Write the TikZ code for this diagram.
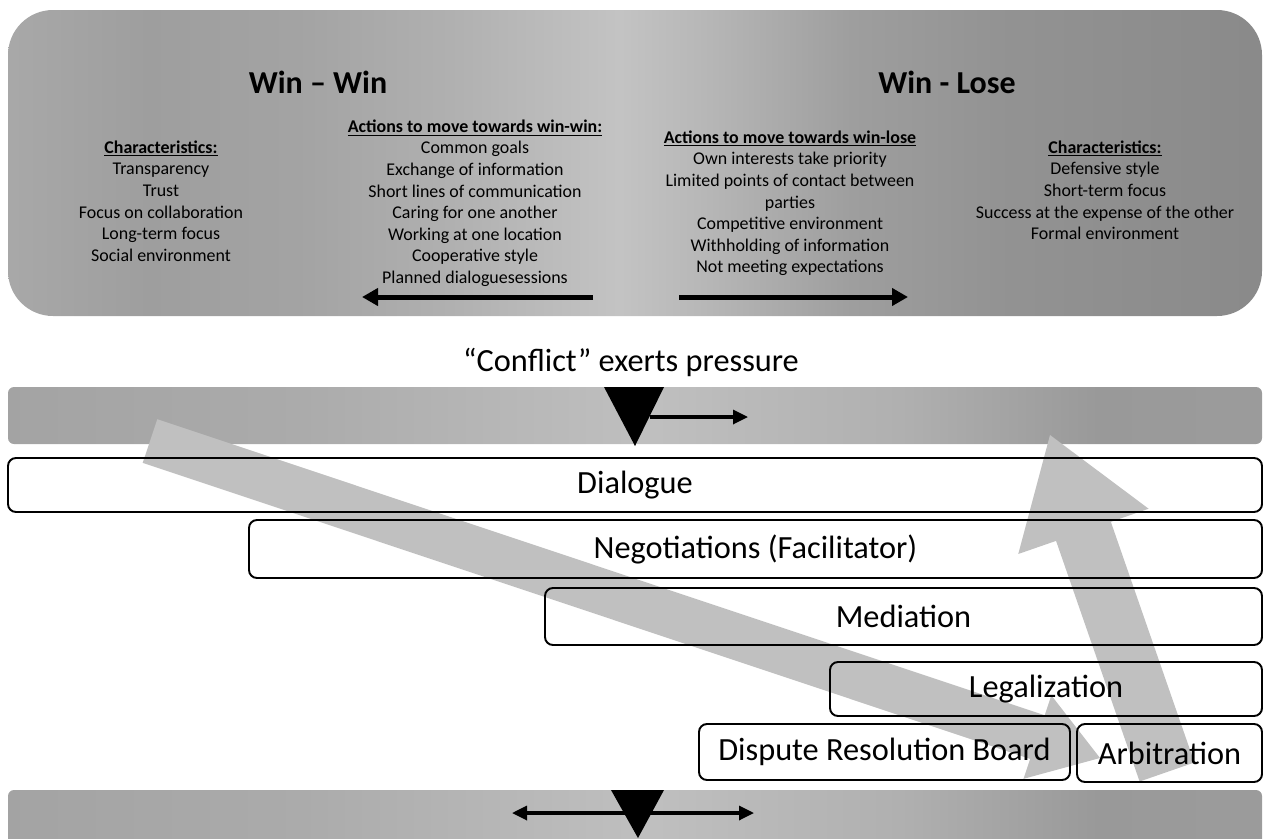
\documentclass[tikz,border=0pt]{standalone}
\usepackage{fontspec}
\setmainfont{Carlito}
\usetikzlibrary{arrows.meta,calc}

\definecolor{arrowgrey}{RGB}{192,192,192}
\newcommand{\unitpx}{0.2mm}

\pgfdeclarehorizontalshading{panelshade}{100bp}{rgb(0bp)=(0.66,0.66,0.66); rgb(25bp)=(0.66,0.66,0.66); rgb(30.6bp)=(0.62,0.62,0.62); rgb(36.6bp)=(0.64,0.64,0.64); rgb(42.6bp)=(0.69,0.69,0.69); rgb(49.4bp)=(0.765,0.765,0.765); rgb(52.6bp)=(0.72,0.72,0.72); rgb(58.6bp)=(0.62,0.62,0.62); rgb(64.6bp)=(0.575,0.575,0.575); rgb(75bp)=(0.54,0.54,0.54); rgb(100bp)=(0.54,0.54,0.54)}
\pgfdeclarehorizontalshading{bandshade}{100bp}{rgb(0bp)=(0.64,0.64,0.64); rgb(25bp)=(0.64,0.64,0.64); rgb(36.6bp)=(0.67,0.67,0.67); rgb(50.6bp)=(0.75,0.75,0.75); rgb(60.6bp)=(0.69,0.69,0.69); rgb(68.5bp)=(0.6,0.6,0.6); rgb(75bp)=(0.61,0.61,0.61); rgb(100bp)=(0.61,0.61,0.61)}

\tikzstyle{stage}=[draw, rounded corners=1.6mm, line width=1.1pt, inner sep=0pt, font=\fontsize{18.4}{22}\selectfont]
\tikzstyle{heading}=[font=\fontsize{18.2}{22}\selectfont\bfseries]
\tikzstyle{column}=[align=center, anchor=north, inner sep=0pt, font=\fontsize{10.2}{12.3}\selectfont]
\tikzstyle{moveedge}=[draw, line width=1mm, -{Triangle[length=3.2mm,width=3.4mm]}]
\tikzstyle{pushedge}=[draw, line width=0.65mm, -{Triangle[length=3mm,width=2.8mm]}]

\begin{document}
\begin{tikzpicture}[x=0.2mm, y=-0.2mm]
\useasboundingbox (0,0) rectangle (1266,838);

    % top panel
    \shade[shading=panelshade, rounded corners=9mm] (8,10) rectangle (1262,316);

    \node[heading] (winwin) at (318,82) {Win – Win};
    \node[heading] (winlose) at (947,82) {Win - Lose};

    \node[column] (charwin) at (161,140.3) {\underline{\textbf{Characteristics:}}\\ Transparency\\ Trust\\ Focus on collaboration\\ Long-term focus\\ Social environment};
    \node[column] (actwin) at (475,119.3) {\underline{\textbf{Actions to move towards win-win:}}\\ Common goals\\ Exchange of information\\ Short lines of communication\\ Caring for one another\\ Working at one location\\ Cooperative style\\ Planned dialoguesessions};
    \node[column] (actlose) at (790,130.3) {\underline{\textbf{Actions to move towards win-lose}}\\ Own interests take priority\\ Limited points of contact between\\ parties\\ Competitive environment\\ Withholding of information\\ Not meeting expectations};
    \node[column] (charlose) at (1105,140.3) {\underline{\textbf{Characteristics:}}\\ Defensive style\\ Short-term focus\\ Success at the expense of the other\\ Formal environment};

    \coordinate (winstart) at (593,297);
    \coordinate (winend) at (362,297);
    \coordinate (losestart) at (679,297);
    \coordinate (loseend) at (908,297);
    \path[moveedge] (winstart) -- (winend);
    \path[moveedge] (losestart) -- (loseend);

    \node[anchor=base, font=\fontsize{18.4}{22}\selectfont] (conflict) at (631,371) {“Conflict” exerts pressure};

    % pressure bands
    \shade[shading=bandshade, rounded corners=1.2mm] (8,387) rectangle (1262,444);
    \shade[shading=bandshade, rounded corners=1.2mm] (8,790) rectangle (1262,850);

    \fill (604,387) -- (664,387) -- (635,446) -- cycle;
    \coordinate (pushstart) at (650,417);
    \coordinate (pushend) at (748,417);
    \path[pushedge] (pushstart) -- (pushend);

    \coordinate (swingleft) at (512,813);
    \coordinate (swingright) at (754,813);
    \path[pushedge, {Triangle[length=3mm,width=2.8mm]}-{Triangle[length=3mm,width=2.8mm]}] (swingleft) -- (swingright);
    \fill (611,790) -- (664,790) -- (638,838) -- cycle;

    % grey escalation arrows
    \coordinate (downtail) at (150,441);
    \coordinate (downtip) at (1100,758);
    \coordinate (downneck) at ($(downtip)!13.2mm!(downtail)$);
    \fill[arrowgrey] ($(downtail)!4.6mm!90:(downtip)$) -- ($(downneck)!4.6mm!90:(downtip)$) -- ($(downneck)!8.8mm!90:(downtip)$) -- (downtip) -- ($(downneck)!8.8mm!-90:(downtip)$) -- ($(downneck)!4.6mm!-90:(downtip)$) -- ($(downtail)!4.6mm!-90:(downtip)$) -- cycle;

    \coordinate (uptail) at (1167,772);
    \coordinate (uptip) at (1050,435);
    \coordinate (upneck) at ($(uptip)!20.4mm!(uptail)$);
    \fill[arrowgrey] ($(uptail)!5.8mm!90:(uptip)$) -- ($(upneck)!5.8mm!90:(uptip)$) -- ($(upneck)!13.8mm!90:(uptip)$) -- (uptip) -- ($(upneck)!13.8mm!-90:(uptip)$) -- ($(upneck)!5.8mm!-90:(uptip)$) -- ($(uptail)!5.8mm!-90:(uptip)$) -- cycle;

    % stages
    \node[stage, minimum width=1254*\unitpx, minimum height=54*\unitpx] (dialogue) at (635,485) {Dialogue};
    \node[stage, minimum width=1013*\unitpx, minimum height=58*\unitpx] (negotiation) at (755.5,549) {Negotiations (Facilitator)};
    \node[stage, minimum width=717*\unitpx, minimum height=57*\unitpx] (mediation) at (903.5,616.5) {Mediation};
    \node[stage, minimum width=432*\unitpx, minimum height=54*\unitpx] (legal) at (1046,689) {Legalization};
    \node[stage, minimum width=371*\unitpx, minimum height=56*\unitpx] (board) at (884.5,752) {Dispute Resolution Board};
    \node[stage, minimum width=185*\unitpx, minimum height=58*\unitpx] (arbitration) at (1169.5,753) {Arbitration};

\end{tikzpicture}
\end{document}
